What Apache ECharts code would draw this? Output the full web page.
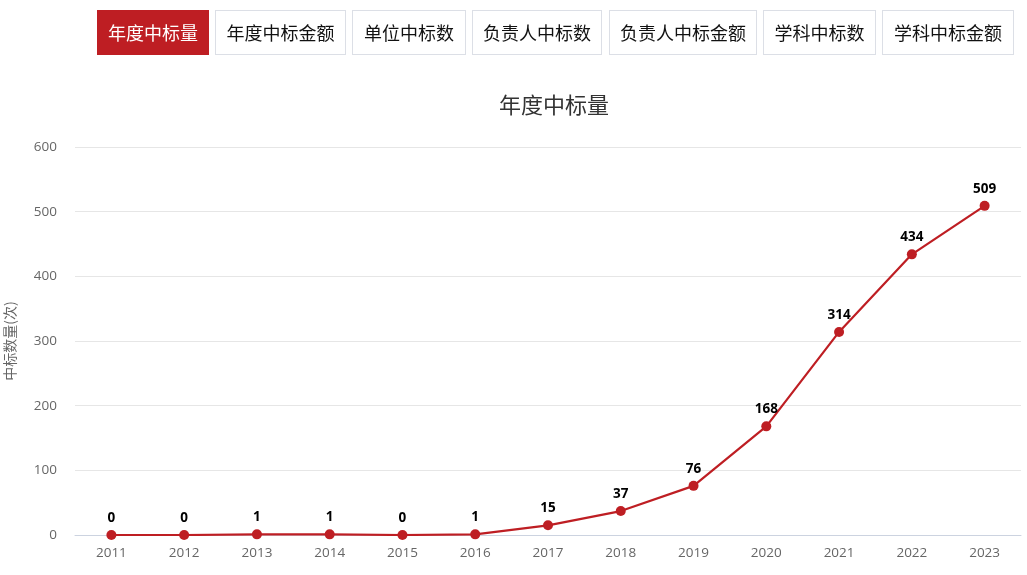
<!DOCTYPE html>
<html><head><meta charset="utf-8">
<script src="https://cdn.jsdelivr.net/npm/echarts@6/dist/echarts.min.js"></script>
<style>
html,body{margin:0;padding:0;background:#fff;font-family:"Noto Sans CJK SC","Noto Sans",sans-serif;}
#wrap{position:relative;width:1027px;height:575px;}
#chart{position:absolute;left:0;top:0;width:1027px;height:575px;}
#tabs{position:absolute;top:10px;left:0;width:1027px;height:45px;z-index:2;}
.tab{position:absolute;top:0;box-sizing:border-box;height:45px;line-height:43px;border:1px solid #dcdfe6;text-align:center;font-size:18px;color:#111;background:#fff;}
.tab.active{background:#be1e23;color:#fff;border-color:#be1e23;}
</style></head>
<body><div id="wrap"><div id="tabs"></div><div id="chart"></div></div>
<script>
const tabs = ["年度中标量","年度中标金额","单位中标数","负责人中标数","负责人中标金额","学科中标数","学科中标金额"];
const years = ["2011","2012","2013","2014","2015","2016","2017","2018","2019","2020","2021","2022","2023"];
const counts = [0,0,1,1,0,1,15,37,76,168,314,434,509];
const titleText = "年度中标量";
const yName = "中标数量(次)";

// tab box edges (layout only)
const tabLeft = [97,215,352,472,609,763,882];
const tabWidth = [112,131,114,130,148,113,132];
const tabsEl = document.getElementById('tabs');
tabs.forEach((t,i)=>{const d=document.createElement('div');d.className='tab'+(i===0?' active':'');d.textContent=t;
  d.style.left=tabLeft[i]+'px';d.style.width=tabWidth[i]+'px';tabsEl.appendChild(d);});

const chart = echarts.init(document.getElementById('chart'));
chart.setOption({
  animation:false,
  title:{text:titleText,left:494,top:89,textStyle:{fontSize:22,fontWeight:'normal',color:'#333',fontFamily:'Noto Sans CJK SC'}},
  grid:{left:75,right:6,top:147,bottom:40,containLabel:false,outerBoundsMode:'none'},
  xAxis:{type:'category',data:years,boundaryGap:true,
    axisLine:{lineStyle:{color:'#ccd3e0'}},axisTick:{show:false},
    axisLabel:{color:'#666',fontSize:13.5,margin:11,fontFamily:'Open Sans'}},
  yAxis:{type:'value',min:0,max:600,interval:100,name:yName,nameLocation:'middle',nameGap:58,
    nameTextStyle:{color:'#666',fontSize:14,fontFamily:'Noto Sans CJK SC'},
    axisLine:{show:false},axisTick:{show:false},
    axisLabel:{color:'#666',fontSize:13.5,margin:18,fontFamily:'Open Sans'},
    splitLine:{lineStyle:{color:'#e6e6e6'}}},
  series:[{type:'line',data:counts,symbol:'circle',symbolSize:10,
    itemStyle:{color:'#be1e23'},lineStyle:{color:'#be1e23',width:2.2},
    label:{show:true,position:'top',color:'#000',fontWeight:'bold',fontSize:13.5,fontFamily:'Open Sans',distance:5}}]
});
</script></body></html>
